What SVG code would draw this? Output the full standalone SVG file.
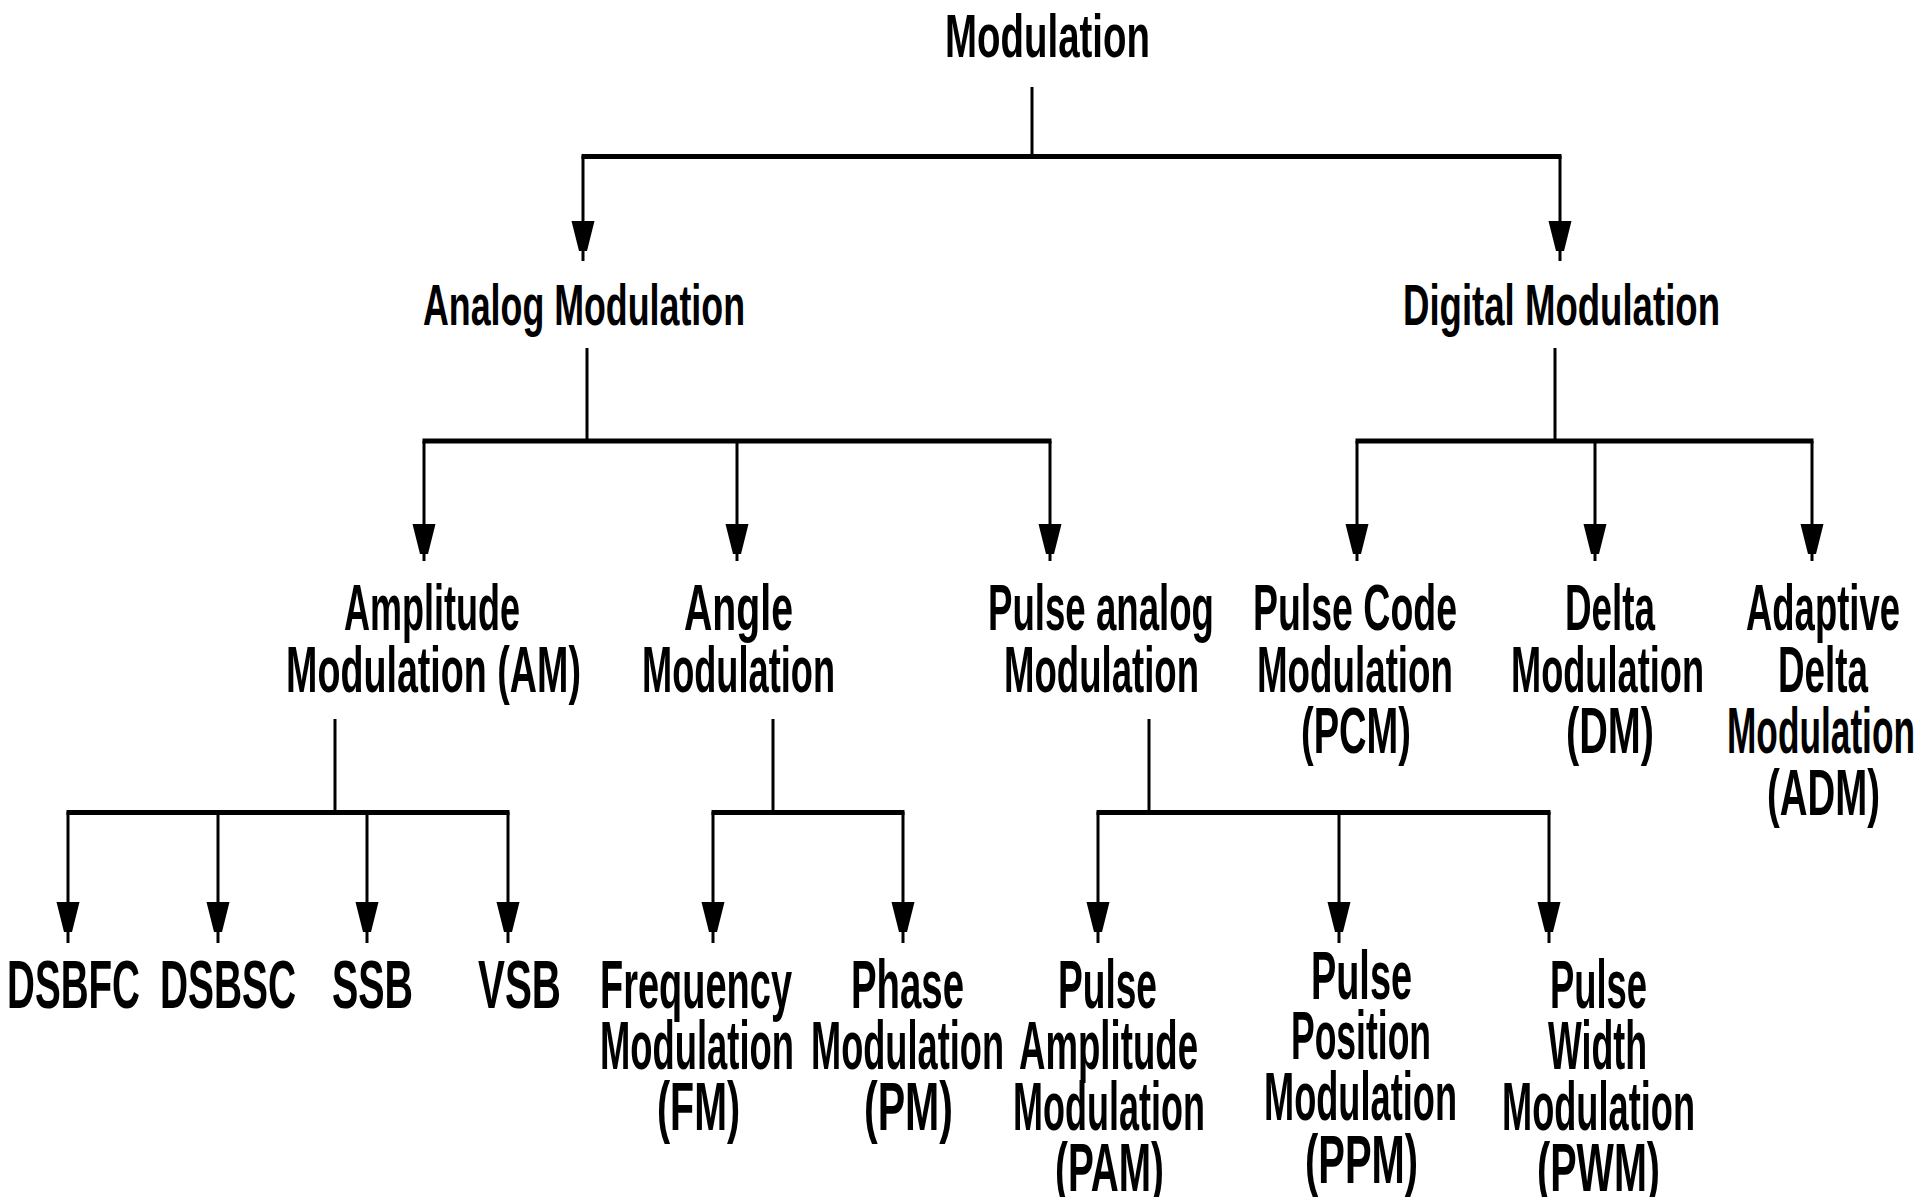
<svg xmlns="http://www.w3.org/2000/svg" xmlns:xlink="http://www.w3.org/1999/xlink" width="1920" height="1197" viewBox="0 0 1920 1197">
<style>
text{font-family:"Liberation Sans",Arial,sans-serif;font-weight:bold;fill:#000;}
.t0{font-size:61px;}
.t1{font-size:58px;}
.t2{font-size:65px;}
.t3{font-size:69px;}
.ln{stroke:#000;stroke-width:3;fill:none;}
.bar{stroke:#000;stroke-width:5;fill:none;}
.ah{fill:#000;}
</style>
<defs>
<polygon id="ah" class="ah" points="-11.5,0 11.5,0 4,30 -4,30"/>
</defs>
<rect width="1920" height="1197" fill="#fff"/>
<g id="connectors">
<line class="ln" x1="1032" y1="87" x2="1032" y2="156"/>
<line class="bar" x1="581.5" y1="156.5" x2="1561.5" y2="156.5"/>
<line class="ln" x1="583" y1="156" x2="583" y2="261"/><use href="#ah" x="583" y="221"/>
<line class="ln" x1="1560" y1="156" x2="1560" y2="261"/><use href="#ah" x="1560" y="221"/>

<line class="ln" x1="587" y1="348" x2="587" y2="441"/>
<line class="bar" x1="422.5" y1="441" x2="1051.5" y2="441"/>
<line class="ln" x1="424" y1="441" x2="424" y2="561"/><use href="#ah" x="424" y="524"/>
<line class="ln" x1="737" y1="441" x2="737" y2="561"/><use href="#ah" x="737" y="524"/>
<line class="ln" x1="1050" y1="441" x2="1050" y2="561"/><use href="#ah" x="1050" y="524"/>

<line class="ln" x1="1555" y1="348" x2="1555" y2="441"/>
<line class="bar" x1="1355.5" y1="441" x2="1813.5" y2="441"/>
<line class="ln" x1="1357" y1="441" x2="1357" y2="561"/><use href="#ah" x="1357" y="524"/>
<line class="ln" x1="1595" y1="441" x2="1595" y2="561"/><use href="#ah" x="1595" y="524"/>
<line class="ln" x1="1812" y1="441" x2="1812" y2="561"/><use href="#ah" x="1812" y="524"/>

<line class="ln" x1="335" y1="719" x2="335" y2="812"/>
<line class="bar" x1="66.5" y1="812.5" x2="509.5" y2="812.5"/>
<line class="ln" x1="68" y1="812" x2="68" y2="943"/><use href="#ah" x="68" y="902"/>
<line class="ln" x1="218" y1="812" x2="218" y2="943"/><use href="#ah" x="218" y="902"/>
<line class="ln" x1="367" y1="812" x2="367" y2="943"/><use href="#ah" x="367" y="902"/>
<line class="ln" x1="508" y1="812" x2="508" y2="943"/><use href="#ah" x="508" y="902"/>

<line class="ln" x1="773" y1="719" x2="773" y2="812"/>
<line class="bar" x1="711.5" y1="812.5" x2="904.5" y2="812.5"/>
<line class="ln" x1="713" y1="812" x2="713" y2="943"/><use href="#ah" x="713" y="902"/>
<line class="ln" x1="903" y1="812" x2="903" y2="943"/><use href="#ah" x="903" y="902"/>

<line class="ln" x1="1149" y1="719" x2="1149" y2="812"/>
<line class="bar" x1="1096.5" y1="812.5" x2="1550.5" y2="812.5"/>
<line class="ln" x1="1098" y1="812" x2="1098" y2="943"/><use href="#ah" x="1098" y="902"/>
<line class="ln" x1="1339" y1="812" x2="1339" y2="943"/><use href="#ah" x="1339" y="902"/>
<line class="ln" x1="1549" y1="812" x2="1549" y2="943"/><use href="#ah" x="1549" y="902"/>
</g>

<g id="n-modulation"><text class="t0" x="945" y="57" textLength="205" lengthAdjust="spacingAndGlyphs">Modulation</text></g>
<g id="n-analog"><text class="t1" x="423" y="325" textLength="322" lengthAdjust="spacingAndGlyphs">Analog Modulation</text></g>
<g id="n-digital"><text class="t1" x="1403" y="325" textLength="317" lengthAdjust="spacingAndGlyphs">Digital Modulation</text></g>

<g id="n-am">
<text class="t2" x="344" y="630" textLength="176" lengthAdjust="spacingAndGlyphs">Amplitude</text>
<text class="t2" x="286" y="692" textLength="295" lengthAdjust="spacingAndGlyphs">Modulation (AM)</text>
</g>
<g id="n-angle">
<text class="t2" x="684" y="630" textLength="109" lengthAdjust="spacingAndGlyphs">Angle</text>
<text class="t2" x="642" y="692" textLength="193" lengthAdjust="spacingAndGlyphs">Modulation</text>
</g>
<g id="n-pulse-analog">
<text class="t2" x="988" y="630" textLength="226" lengthAdjust="spacingAndGlyphs">Pulse analog</text>
<text class="t2" x="1004" y="692" textLength="195" lengthAdjust="spacingAndGlyphs">Modulation</text>
</g>
<g id="n-pcm">
<text class="t2" x="1253" y="630" textLength="204" lengthAdjust="spacingAndGlyphs">Pulse Code</text>
<text class="t2" x="1257" y="692" textLength="196" lengthAdjust="spacingAndGlyphs">Modulation</text>
<text class="t2" x="1301" y="753" textLength="110" lengthAdjust="spacingAndGlyphs">(PCM)</text>
</g>
<g id="n-dm">
<text class="t2" x="1565" y="630" textLength="90" lengthAdjust="spacingAndGlyphs">Delta</text>
<text class="t2" x="1511" y="692" textLength="193" lengthAdjust="spacingAndGlyphs">Modulation</text>
<text class="t2" x="1566" y="753" textLength="88" lengthAdjust="spacingAndGlyphs">(DM)</text>
</g>
<g id="n-adm">
<text class="t2" x="1746" y="630" textLength="154" lengthAdjust="spacingAndGlyphs">Adaptive</text>
<text class="t2" x="1778" y="692" textLength="90" lengthAdjust="spacingAndGlyphs">Delta</text>
<text class="t2" x="1727" y="753" textLength="188" lengthAdjust="spacingAndGlyphs">Modulation</text>
<text class="t2" x="1767" y="815" textLength="113" lengthAdjust="spacingAndGlyphs">(ADM)</text>
</g>

<g id="n-dsbfc"><text class="t3" x="7" y="1008" textLength="133" lengthAdjust="spacingAndGlyphs">DSBFC</text></g>
<g id="n-dsbsc"><text class="t3" x="160" y="1008" textLength="136" lengthAdjust="spacingAndGlyphs">DSBSC</text></g>
<g id="n-ssb"><text class="t3" x="332" y="1008" textLength="81" lengthAdjust="spacingAndGlyphs">SSB</text></g>
<g id="n-vsb"><text class="t3" x="478" y="1008" textLength="83" lengthAdjust="spacingAndGlyphs">VSB</text></g>
<g id="n-fm">
<text class="t3" x="600" y="1008" textLength="192" lengthAdjust="spacingAndGlyphs">Frequency</text>
<text class="t3" x="600" y="1069" textLength="194" lengthAdjust="spacingAndGlyphs">Modulation</text>
<text class="t3" x="657" y="1130" textLength="83" lengthAdjust="spacingAndGlyphs">(FM)</text>
</g>
<g id="n-pm">
<text class="t3" x="851" y="1008" textLength="113" lengthAdjust="spacingAndGlyphs">Phase</text>
<text class="t3" x="811" y="1069" textLength="193" lengthAdjust="spacingAndGlyphs">Modulation</text>
<text class="t3" x="864" y="1130" textLength="89" lengthAdjust="spacingAndGlyphs">(PM)</text>
</g>
<g id="n-pam">
<text class="t3" x="1058" y="1008" textLength="99" lengthAdjust="spacingAndGlyphs">Pulse</text>
<text class="t3" x="1019" y="1069" textLength="179" lengthAdjust="spacingAndGlyphs">Amplitude</text>
<text class="t3" x="1013" y="1130" textLength="192" lengthAdjust="spacingAndGlyphs">Modulation</text>
<text class="t3" x="1055" y="1191" textLength="109" lengthAdjust="spacingAndGlyphs">(PAM)</text>
</g>
<g id="n-ppm">
<text class="t3" x="1311" y="999" textLength="101" lengthAdjust="spacingAndGlyphs">Pulse</text>
<text class="t3" x="1291" y="1059" textLength="140" lengthAdjust="spacingAndGlyphs">Position</text>
<text class="t3" x="1264" y="1120" textLength="193" lengthAdjust="spacingAndGlyphs">Modulation</text>
<text class="t3" x="1305" y="1183" textLength="113" lengthAdjust="spacingAndGlyphs">(PPM)</text>
</g>
<g id="n-pwm">
<text class="t3" x="1550" y="1008" textLength="97" lengthAdjust="spacingAndGlyphs">Pulse</text>
<text class="t3" x="1548" y="1069" textLength="99" lengthAdjust="spacingAndGlyphs">Width</text>
<text class="t3" x="1502" y="1130" textLength="193" lengthAdjust="spacingAndGlyphs">Modulation</text>
<text class="t3" x="1537" y="1191" textLength="123" lengthAdjust="spacingAndGlyphs">(PWM)</text>
</g>
</svg>
